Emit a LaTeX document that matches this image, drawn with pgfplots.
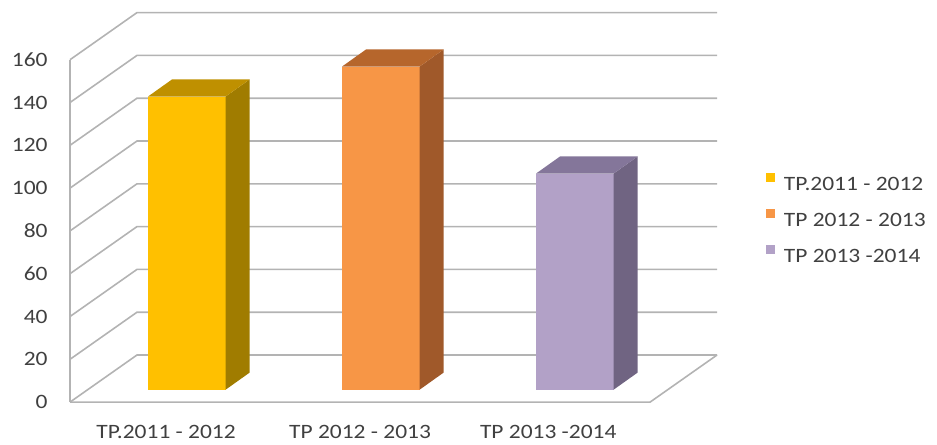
\documentclass[border=0pt]{standalone}
\usepackage{pgfplots}
\pgfplotsset{compat=1.18}
\usepackage{fontspec}
\setmainfont{Carlito}[FakeStretch=1.15]
\definecolor{txt}{HTML}{404040}
\definecolor{grid}{HTML}{B3B3B3}
\definecolor{goldF}{HTML}{FFC000}
\definecolor{goldT}{HTML}{BF9000}
\definecolor{goldS}{HTML}{A07C00}
\definecolor{orgF}{HTML}{F79646}
\definecolor{orgT}{HTML}{B6662C}
\definecolor{orgS}{HTML}{A0592A}
\definecolor{purF}{HTML}{B2A1C7}
\definecolor{purT}{HTML}{84769A}
\definecolor{purS}{HTML}{706482}
\begin{document}
\begin{tikzpicture}
\begin{axis}[
  x=97pt, y=1.07pt,
  xmin=-0.505, xmax=2.83, ymin=0, ymax=181,
  clip=false,
  axis line style={draw=none},
  tick style={draw=none},
  font=\fontsize{10.2}{12}\selectfont,
  /pgf/number format/assume math mode=true,
  ytick={0,20,...,160},
  yticklabel style={anchor=east, inner sep=0pt, xshift=-11pt, text=txt},
  xtick={-0.01,0.99,1.96},
  xticklabels={TP.2011 - 2012, TP 2012 - 2013, TP 2013 -2014},
  xticklabel style={anchor=north, inner sep=0pt, yshift=-11.5pt, text=txt},
  legend style={at={(1.075,0.475)}, anchor=west, draw=none, fill=none,
    inner sep=0pt, text=txt,
    nodes={inner sep=0pt, text height=6.5pt, text depth=0pt},
    /tikz/every odd column/.append style={column sep=4.5pt},
    /tikz/row sep=9.25pt},
  legend cell align=left,
  legend image code/.code={\fill[#1,draw=none] (0pt,1pt) rectangle (4.5pt,5.5pt);},
]
% invisible frame giving the picture its size
\path (axis cs:-0.866,-19.6) rectangle (axis cs:3.964,187.9);
% 3D walls: diagonals and back gridlines
\foreach \v in {0,20,...,160}{
  \edef\tmp{\noexpand\draw[grid, line width=0.8pt] (axis cs:-0.505,\v) -- (axis cs:-0.16,\v+22) -- (axis cs:2.83,\v+22);}
  \tmp
}
\draw[grid, line width=0.8pt] (axis cs:-0.505,0) -- (axis cs:-0.505,160);
\draw[grid, line width=0.8pt] (axis cs:-0.505,0) -- (axis cs:2.485,0) -- (axis cs:2.83,22);

% Bar 1: value 137
\addplot[fill=goldF, draw=none] coordinates {(-0.103,5.8) (0.297,5.8) (0.297,142.8) (-0.103,142.8)};
\addlegendentry{TP.2011 - 2012}
\addplot[fill=goldS, draw=none, forget plot] coordinates {(0.297,5.8) (0.421,13.8) (0.421,150.8) (0.297,142.8)};
\addplot[fill=goldT, draw=none, forget plot] coordinates {(-0.103,142.8) (0.297,142.8) (0.421,150.8) (0.021,150.8)};
% Bar 2: value 151
\addplot[fill=orgF, draw=none] coordinates {(0.897,5.8) (1.297,5.8) (1.297,156.8) (0.897,156.8)};
\addlegendentry{TP 2012 - 2013}
\addplot[fill=orgS, draw=none, forget plot] coordinates {(1.297,5.8) (1.421,13.8) (1.421,164.8) (1.297,156.8)};
\addplot[fill=orgT, draw=none, forget plot] coordinates {(0.897,156.8) (1.297,156.8) (1.421,164.8) (1.021,164.8)};
% Bar 3: value 101
\addplot[fill=purF, draw=none] coordinates {(1.897,5.8) (2.297,5.8) (2.297,106.8) (1.897,106.8)};
\addlegendentry{TP 2013 -2014}
\addplot[fill=purS, draw=none, forget plot] coordinates {(2.297,5.8) (2.421,13.8) (2.421,114.8) (2.297,106.8)};
\addplot[fill=purT, draw=none, forget plot] coordinates {(1.897,106.8) (2.297,106.8) (2.421,114.8) (2.021,114.8)};
\end{axis}
\end{tikzpicture}
\end{document}
